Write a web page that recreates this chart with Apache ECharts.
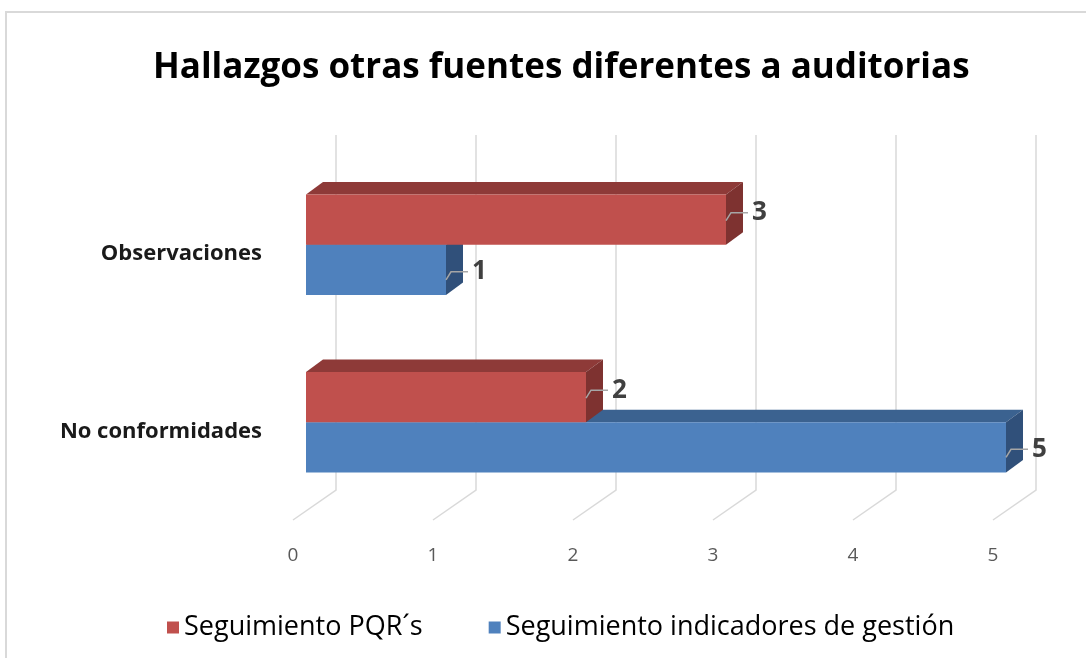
<!DOCTYPE html>
<html>
<head>
<meta charset="utf-8">
<title>Hallazgos otras fuentes diferentes a auditorias</title>
<script src="https://cdn.jsdelivr.net/npm/echarts@6/dist/echarts.min.js"></script>
<style>
  html, body { margin: 0; padding: 0; background: #fff; }
  #chart { width: 1086px; height: 658px; }
</style>
</head>
<body>
<div id="chart"></div>
<script>
    // datos
    var categories = ['No conformidades', 'Observaciones'];
    var pqrValues = [2, 3];
    var indicadoresValues = [5, 1];
    var xTicks = [0, 1, 2, 3, 4, 5];

    var FONT = "'Open Sans', sans-serif";
    // desplazamientos de la perspectiva (frente de barra, fondo de barra, pared)
    var FRONT = [13, -9];
    var DEPTH = [17, -12.5];
    var WALL = [43, -30];

    var myChart = echarts.init(document.getElementById('chart'));

    function gridRender(params, api) {
        var v = api.value(0);
        var p = api.coord([v, 0]);
        var yTop = params.coordSys.y + WALL[1];
        var yFloor = params.coordSys.y + params.coordSys.height;
        var xb = p[0] + WALL[0];
        return {
            type: 'polyline',
            shape: { points: [[xb, yTop], [xb, yFloor + WALL[1]], [p[0], yFloor]] },
            style: { stroke: '#d9d9d9', lineWidth: 1.5, fill: null }
        };
    }

    function makeBarRender(isTop, front, top, side, labelOff) {
        return function (params, api) {
            var v = api.value(0), c = api.value(1);
            var p0 = api.coord([0, c]), p1 = api.coord([v, c]);
            var band = api.size([0, 1])[1];
            var h = band * 0.283;
            var x0 = p0[0] + FRONT[0], x1 = p1[0] + FRONT[0];
            var yMid = p0[1] + FRONT[1];
            var yT = isTop ? yMid - h : yMid;
            var yB = isTop ? yMid : yMid + h;
            var dx = DEPTH[0], dy = DEPTH[1];
            var yc = (yT + yB) / 2 + labelOff;
            return {
                type: 'group',
                children: [
                    { type: 'polygon', shape: { points: [[x0, yT], [x1, yT], [x1 + dx, yT + dy], [x0 + dx, yT + dy]] }, style: { fill: top } },
                    { type: 'polygon', shape: { points: [[x1, yT], [x1, yB], [x1 + dx, yB + dy], [x1 + dx, yT + dy]] }, style: { fill: side } },
                    { type: 'rect', shape: { x: x0, y: yT, width: x1 - x0, height: yB - yT }, style: { fill: front } },
                    { type: 'polyline', shape: { points: [[x1, yc + 8], [x1 + 5, yc], [x1 + 22, yc]] }, style: { stroke: '#a6a6a6', lineWidth: 1.5, fill: null } },
                    { type: 'text', x: x1 + 26, y: yc, style: { text: String(v), fontSize: 26, fontWeight: 'bold', fontFamily: FONT, fill: '#404040', textAlign: 'left', textVerticalAlign: 'middle' } }
                ]
            };
        };
    }

    function toData(values) {
        return values.map(function (v, i) { return [v, i]; });
    }

    var option = {
        backgroundColor: '#fff',
        animation: false,
        title: {
            text: 'Hallazgos otras fuentes diferentes a auditorias',
            left: 148,
            top: 46,
            textStyle: { fontSize: 35, fontWeight: 'bold', color: '#000', fontFamily: FONT }
        },
        graphic: [{
            type: 'rect',
            shape: { x: 6, y: 12, width: 1200, height: 800 },
            style: { fill: null, stroke: '#d9d9d9', lineWidth: 2 },
            silent: true
        }],
        legend: {
            data: ['Seguimiento PQR´s', 'Seguimiento indicadores de gestión'],
            left: 162,
            top: 609,
            icon: 'rect',
            itemWidth: 12,
            itemHeight: 12,
            itemGap: 66,
            textStyle: { fontSize: 27, color: '#000', fontFamily: FONT }
        },
        grid: { left: 293, right: 93, top: 165, bottom: 138 },
        xAxis: {
            type: 'value',
            min: 0,
            max: 5,
            interval: 1,
            axisLine: { show: false },
            axisTick: { show: false },
            splitLine: { show: false },
            axisLabel: { margin: 26, fontSize: 19, color: '#595959', fontFamily: FONT }
        },
        yAxis: {
            type: 'category',
            data: categories,
            axisLine: { show: false },
            axisTick: { show: false },
            axisLabel: { margin: 31, fontSize: 22, color: '#1a1a1a', fontFamily: FONT, fontWeight: 'bold' }
        },
        series: [
            {
                type: 'custom',
                name: 'grid',
                silent: true,
                renderItem: gridRender,
                data: xTicks.map(function (t) { return [t, 0]; }),
                encode: { x: 0, y: 1 }
            },
            {
                type: 'custom',
                name: 'Seguimiento indicadores de gestión',
                itemStyle: { color: '#4F81BD' },
                renderItem: makeBarRender(false, '#4F81BD', '#3B6290', '#30507A', 2),
                data: toData(indicadoresValues),
                encode: { x: 0, y: 1 }
            },
            {
                type: 'custom',
                name: 'Seguimiento PQR´s',
                itemStyle: { color: '#C0504D' },
                renderItem: makeBarRender(true, '#C0504D', '#8E3A38', '#7E3230', -7),
                data: toData(pqrValues),
                encode: { x: 0, y: 1 }
            }
        ]
    };
    myChart.setOption(option);
</script>
</body>
</html>
